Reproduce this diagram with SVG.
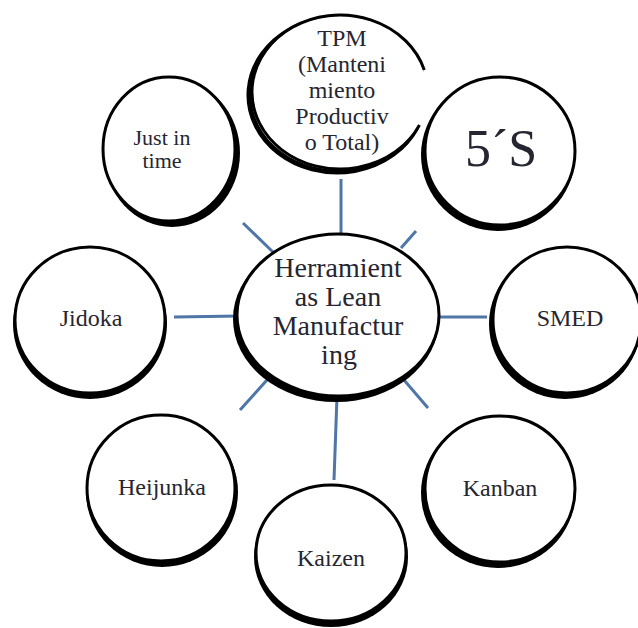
<svg xmlns="http://www.w3.org/2000/svg" width="638" height="628" viewBox="0 0 638 628">
  <style>
    .bg { fill: #ffffff; }
    .sh { fill: #000000; }
    .ring { fill: #ffffff; stroke: #000000; stroke-width: 3; }
    .arc { fill: none; stroke: #000000; stroke-width: 3; }
    .arcsh { fill: none; stroke: #000000; stroke-width: 5; }
    .fillonly { fill: #ffffff; stroke: none; }
    .lbl { font-size: 24px; fill: #262630; text-anchor: middle; }
    .hub { font-size: 28px; }
    .big { font-size: 52px; }
    .tight { font-size: 22px; }
    .link { stroke: #4f76a6; stroke-width: 3; stroke-linecap: butt; fill: none; }
  </style>

  <rect class="bg" x="0" y="0" width="638" height="628"/>

  <!-- spokes from the hub to each tool -->
  <g id="connectors">
    <line class="link" x1="341" y1="179" x2="341" y2="236"/>
    <line class="link" x1="401" y1="248" x2="416" y2="231"/>
    <line class="link" x1="243" y1="223" x2="275" y2="254"/>
    <line class="link" x1="174" y1="317" x2="240" y2="316"/>
    <line class="link" x1="436" y1="317" x2="487" y2="317"/>
    <line class="link" x1="275" y1="371" x2="240" y2="410"/>
    <line class="link" x1="398" y1="373" x2="428" y2="408"/>
    <line class="link" x1="337" y1="396" x2="334" y2="480"/>
  </g>

  <g font-family="'Liberation Serif', 'Times New Roman', 'DejaVu Serif', serif">
    <!-- TPM: outline is interrupted on its right side -->
    <g id="node-tpm">
      <path class="arcsh" transform="translate(-3,3)" d="M 419.5 125 A 88 77 0 1 1 424.3 70"/>
      <ellipse class="fillonly" cx="340" cy="92" rx="87" ry="76"/>
      <path class="arc" d="M 419.5 125 A 88 77 0 1 1 424.3 70"/>
      <text class="lbl" x="342" y="46">TPM</text>
      <text class="lbl" x="342" y="72">(Manteni</text>
      <text class="lbl" x="342" y="98">miento</text>
      <text class="lbl" x="342" y="124">Productiv</text>
      <text class="lbl" x="342" y="150">o Total)</text>
    </g>

    <g id="node-5s">
      <ellipse class="sh" cx="498" cy="155" rx="77" ry="76"/>
      <ellipse class="ring" cx="500" cy="151" rx="75" ry="74"/>
      <text class="lbl big" x="501" y="166">5´S</text>
    </g>

    <g id="node-jit">
      <ellipse class="sh" cx="172" cy="153" rx="68" ry="74"/>
      <ellipse class="ring" cx="169" cy="149" rx="66" ry="72"/>
      <text class="lbl tight" x="162" y="145">Just in</text>
      <text class="lbl tight" x="162" y="168">time</text>
    </g>

    <g id="node-jidoka">
      <ellipse class="sh" cx="90" cy="324" rx="77" ry="75"/>
      <ellipse class="ring" cx="90" cy="320" rx="75" ry="73"/>
      <text class="lbl" x="91" y="326">Jidoka</text>
    </g>

    <g id="node-smed">
      <ellipse class="sh" cx="565" cy="324" rx="76" ry="75"/>
      <ellipse class="ring" cx="567" cy="320" rx="74" ry="73"/>
      <text class="lbl" x="570" y="326">SMED</text>
    </g>

    <g id="node-heijunka">
      <ellipse class="sh" cx="162" cy="492" rx="76" ry="75"/>
      <ellipse class="ring" cx="161" cy="488" rx="74" ry="73"/>
      <text class="lbl" x="162" y="495">Heijunka</text>
    </g>

    <g id="node-kanban">
      <ellipse class="sh" cx="498" cy="493" rx="77" ry="75"/>
      <ellipse class="ring" cx="500" cy="489" rx="75" ry="73"/>
      <text class="lbl" x="500" y="496">Kanban</text>
    </g>

    <g id="node-kaizen">
      <ellipse class="sh" cx="331" cy="557" rx="77" ry="70"/>
      <ellipse class="ring" cx="331" cy="553" rx="75" ry="68"/>
      <text class="lbl" x="331" y="566">Kaizen</text>
    </g>

    <g id="node-hub">
      <ellipse class="sh" cx="336" cy="319" rx="103" ry="83"/>
      <ellipse class="ring" cx="338" cy="315" rx="101" ry="81"/>
      <text class="lbl hub" x="338" y="277">Herramient</text>
      <text class="lbl hub" x="338" y="306">as Lean</text>
      <text class="lbl hub" x="338" y="335">Manufactur</text>
      <text class="lbl hub" x="339" y="364">ing</text>
    </g>
  </g>
</svg>
